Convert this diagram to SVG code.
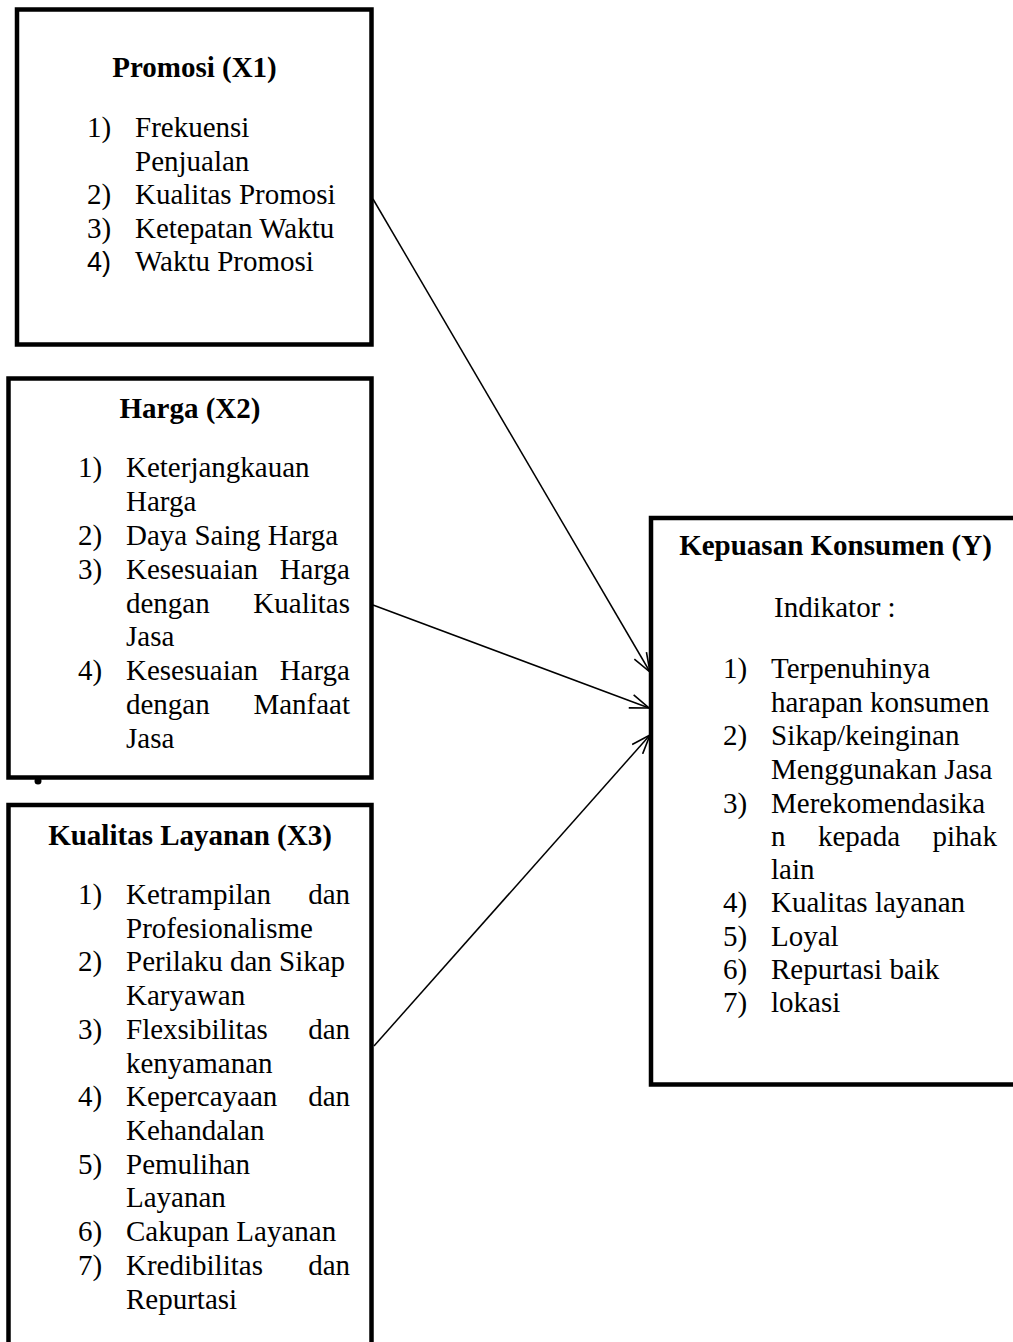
<svg xmlns="http://www.w3.org/2000/svg" width="1013" height="1342" viewBox="0 0 1013 1342">
<style>
.box{fill:#fff;stroke:#000;stroke-width:4.5;stroke-linejoin:miter}
.t{font-family:"Liberation Serif","Times New Roman",serif;font-size:29px;fill:#000}
.b{font-weight:bold}
.s{font-family:"Liberation Sans",Arial,sans-serif;font-size:27px;fill:#000}
.m{text-anchor:middle}
.e{text-anchor:end}
.c{stroke:#000;stroke-width:1.5;fill:none}
</style>
<defs>
<marker id="arr" markerUnits="userSpaceOnUse" markerWidth="22" markerHeight="16" refX="20" refY="8" orient="auto" viewBox="0 0 22 16">
<path d="M1,1 L20,8 L1,15" fill="none" stroke="#000" stroke-width="1.6"/>
</marker>
</defs>
<rect width="1013" height="1342" fill="#fff"/>

<g id="promosi">
<rect class="box" x="17" y="9.5" width="354.5" height="335"/>
<text class="t b m" x="194.5" y="77">Promosi (X1)</text>
<text class="t" x="87" y="137">1)</text><text class="t" x="135" y="137">Frekuensi</text>
<text class="t" x="135" y="170.5">Penjualan</text>
<text class="t" x="87" y="204">2)</text><text class="t" x="135" y="204">Kualitas Promosi</text>
<text class="t" x="87" y="237.5">3)</text><text class="t" x="135" y="237.5">Ketepatan Waktu</text>
<text class="s" x="87" y="271">4)</text><text class="t" x="135" y="271">Waktu Promosi</text>
</g>

<g id="harga">
<rect class="box" x="8.5" y="378.5" width="363" height="399"/>
<circle cx="38" cy="781" r="3.5" fill="#000"/>
<text class="t b m" x="190" y="418">Harga (X2)</text>
<text class="t" x="78" y="477">1)</text><text class="t" x="126" y="477">Keterjangkauan</text>
<text class="t" x="126" y="511">Harga</text>
<text class="t" x="78" y="545">2)</text><text class="t" x="126" y="545">Daya Saing Harga</text>
<text class="t" x="78" y="579">3)</text><text class="t" x="126" y="579">Kesesuaian</text><text class="t e" x="350" y="579">Harga</text>
<text class="t" x="126" y="612.5">dengan</text><text class="t e" x="350" y="612.5">Kualitas</text>
<text class="t" x="126" y="646">Jasa</text>
<text class="t" x="78" y="680">4)</text><text class="t" x="126" y="680">Kesesuaian</text><text class="t e" x="350" y="680">Harga</text>
<text class="t" x="126" y="714">dengan</text><text class="t e" x="350" y="714">Manfaat</text>
<text class="t" x="126" y="747.5">Jasa</text>
</g>

<g id="kualitas-layanan">
<rect class="box" x="8.5" y="805" width="363" height="560"/>
<text class="t b m" x="190" y="845">Kualitas Layanan (X3)</text>
<text class="t" x="78" y="904">1)</text><text class="t" x="126" y="904">Ketrampilan</text><text class="t e" x="350" y="904">dan</text>
<text class="t" x="126" y="937.7">Profesionalisme</text>
<text class="t" x="78" y="971.4">2)</text><text class="t" x="126" y="971.4">Perilaku dan Sikap</text>
<text class="t" x="126" y="1005">Karyawan</text>
<text class="t" x="78" y="1038.8">3)</text><text class="t" x="126" y="1038.8">Flexsibilitas</text><text class="t e" x="350" y="1038.8">dan</text>
<text class="t" x="126" y="1072.5">kenyamanan</text>
<text class="t" x="78" y="1106">4)</text><text class="t" x="126" y="1106">Kepercayaan</text><text class="t e" x="350" y="1106">dan</text>
<text class="t" x="126" y="1140">Kehandalan</text>
<text class="t" x="78" y="1173.6">5)</text><text class="t" x="126" y="1173.6">Pemulihan</text>
<text class="t" x="126" y="1207">Layanan</text>
<text class="t" x="78" y="1241">6)</text><text class="t" x="126" y="1241">Cakupan Layanan</text>
<text class="t" x="78" y="1275">7)</text><text class="t" x="126" y="1275">Kredibilitas</text><text class="t e" x="350" y="1275">dan</text>
<text class="t" x="126" y="1308.5">Repurtasi</text>
</g>

<g id="kepuasan-konsumen">
<rect class="box" x="651" y="518" width="380" height="566.5"/>
<text class="t b m" x="835.5" y="555">Kepuasan Konsumen (Y)</text>
<text class="t" x="774" y="617">Indikator :</text>
<text class="t" x="723" y="678">1)</text><text class="t" x="771" y="678">Terpenuhinya</text>
<text class="t" x="771" y="712">harapan konsumen</text>
<text class="t" x="723" y="745">2)</text><text class="t" x="771" y="745">Sikap/keinginan</text>
<text class="t" x="771" y="779">Menggunakan Jasa</text>
<text class="t" x="723" y="813">3)</text><text class="t" x="771" y="813">Merekomendasika</text>
<text class="t" x="771" y="846">n</text><text class="t" x="818" y="846">kepada</text><text class="t e" x="997" y="846">pihak</text>
<text class="t" x="771" y="879">lain</text>
<text class="t" x="723" y="912">4)</text><text class="t" x="771" y="912">Kualitas layanan</text>
<text class="t" x="723" y="946">5)</text><text class="t" x="771" y="946">Loyal</text>
<text class="t" x="723" y="979">6)</text><text class="t" x="771" y="979">Repurtasi baik</text>
<text class="t" x="723" y="1012">7)</text><text class="t" x="771" y="1012">lokasi</text>
</g>

<g id="connectors">
<line class="c" x1="373" y1="199" x2="650" y2="672" marker-end="url(#arr)"/>
<line class="c" x1="373" y1="605" x2="649" y2="708" marker-end="url(#arr)"/>
<line class="c" x1="374" y1="1046" x2="650" y2="735" marker-end="url(#arr)"/>
</g>
</svg>
